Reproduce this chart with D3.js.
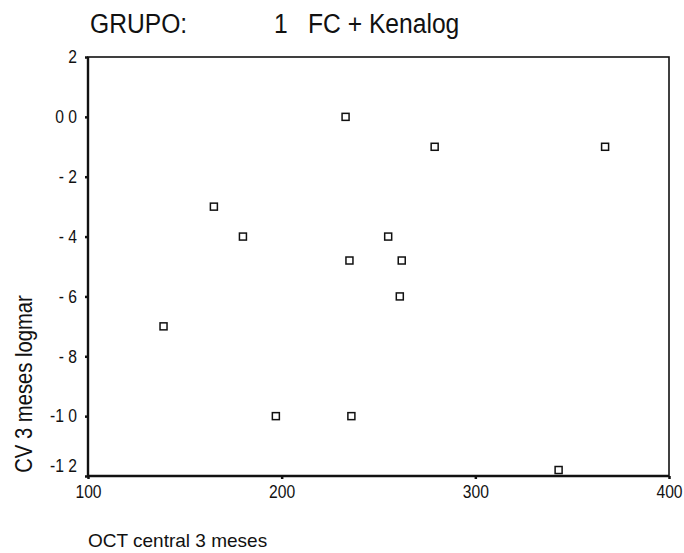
<!DOCTYPE html>
<html>
<head>
<meta charset="utf-8">
<script src="https://cdn.jsdelivr.net/npm/d3@7"></script>
<style>
  body { margin: 0; background: #fff; }
  text { font-family: "Liberation Sans", Arial, sans-serif; fill: #111; }
</style>
</head>
<body>
<div id="chart"></div>
<script>
const width = 684;
const height = 553;

// OCT central 3 meses (x) vs CV 3 meses logmar (y)
const octValues = [233, 279, 367, 165, 180, 255, 235, 262, 261, 139, 197, 236, 343];
const cvValues = [0.0, -0.1, -0.1, -0.3, -0.4, -0.4, -0.48, -0.48, -0.6, -0.7, -1.0, -1.0, -1.18];

const xTicks = [100, 200, 300, 400];
const yTicks = [0.2, 0.0, -0.2, -0.4, -0.6, -0.8, -1.0, -1.2];
const yTickLabels = ["2", "0 0", "- 2", "- 4", "- 6", "- 8", "-1 0", "-1 2"];

const margin = { top: 57, right: 15, bottom: 77, left: 88 };
const narrow = 0.87; // scanned type looks condensed

const svg = d3.select("#chart")
  .append("svg")
  .attr("width", width)
  .attr("height", height);

const x = d3.scaleLinear().domain([100, 400]).range([margin.left, width - margin.right]);
const y = d3.scaleLinear().domain([-1.2, 0.2]).range([height - margin.bottom, margin.top]);

// title
svg.append("text").attr("transform", `translate(90,33) scale(0.88,1)`)
  .attr("font-size", 28).text("GRUPO:");
svg.append("text").attr("transform", `translate(274,33) scale(0.88,1)`)
  .attr("font-size", 28).text("1");
svg.append("text").attr("transform", `translate(308,33) scale(0.88,1)`)
  .attr("font-size", 28).text("FC + Kenalog");

// frame
svg.append("rect")
  .attr("x", x(100)).attr("y", y(0.2))
  .attr("width", x(400) - x(100)).attr("height", y(-1.2) - y(0.2))
  .attr("fill", "none").attr("stroke", "#111").attr("stroke-width", 1.6);
svg.append("line")
  .attr("x1", x(100)).attr("x2", x(100)).attr("y1", y(0.2)).attr("y2", y(-1.2))
  .attr("stroke", "#111").attr("stroke-width", 2.4);
svg.append("line")
  .attr("x1", x(100)).attr("x2", x(400)).attr("y1", y(-1.2)).attr("y2", y(-1.2))
  .attr("stroke", "#111").attr("stroke-width", 2.4);

// y axis
const yAxis = svg.append("g")
  .attr("transform", `translate(${x(100)},0)`)
  .call(d3.axisLeft(y).tickValues(yTicks).tickSize(3).tickPadding(8)
    .tickFormat((d, i) => yTickLabels[i]));
yAxis.select(".domain").remove();
yAxis.selectAll(".tick line").attr("stroke", "#111").attr("stroke-width", 2.5);
yAxis.selectAll("text")
  .attr("font-size", 18).attr("fill", "#111")
  .attr("font-family", "Liberation Sans, Arial, sans-serif")
  .attr("xml:space", "preserve")
  .attr("transform", d => `scale(${narrow},1)` + (d === -1.2 ? " translate(0,-10)" : ""))
  .attr("x", -11 / narrow);

// x axis
const xAxis = svg.append("g")
  .attr("transform", `translate(0,${y(-1.2)})`)
  .call(d3.axisBottom(x).tickValues(xTicks).tickSize(3).tickPadding(6).tickFormat(d3.format("d")));
xAxis.select(".domain").remove();
xAxis.selectAll(".tick line").attr("stroke", "#111").attr("stroke-width", 2.5);
xAxis.selectAll("text")
  .attr("font-size", 18).attr("fill", "#111")
  .attr("font-family", "Liberation Sans, Arial, sans-serif")
  .attr("transform", `scale(${narrow},1)`);

// axis titles
svg.append("text")
  .attr("transform", `translate(32,384) rotate(-90) scale(0.88,1)`)
  .attr("text-anchor", "middle").attr("font-size", 23)
  .text("CV 3 meses logmar");
svg.append("text").attr("x", 88).attr("y", 547).attr("font-size", 19)
  .text("OCT central 3 meses");

// points
svg.append("g")
  .selectAll("rect")
  .data(octValues.map((v, i) => [v, cvValues[i]]))
  .join("rect")
  .attr("x", d => x(d[0]) - 3.5)
  .attr("y", d => y(d[1]) - 3.5)
  .attr("width", 7).attr("height", 7)
  .attr("fill", "#fff").attr("stroke", "#111").attr("stroke-width", 1.5);
</script>
</body>
</html>
